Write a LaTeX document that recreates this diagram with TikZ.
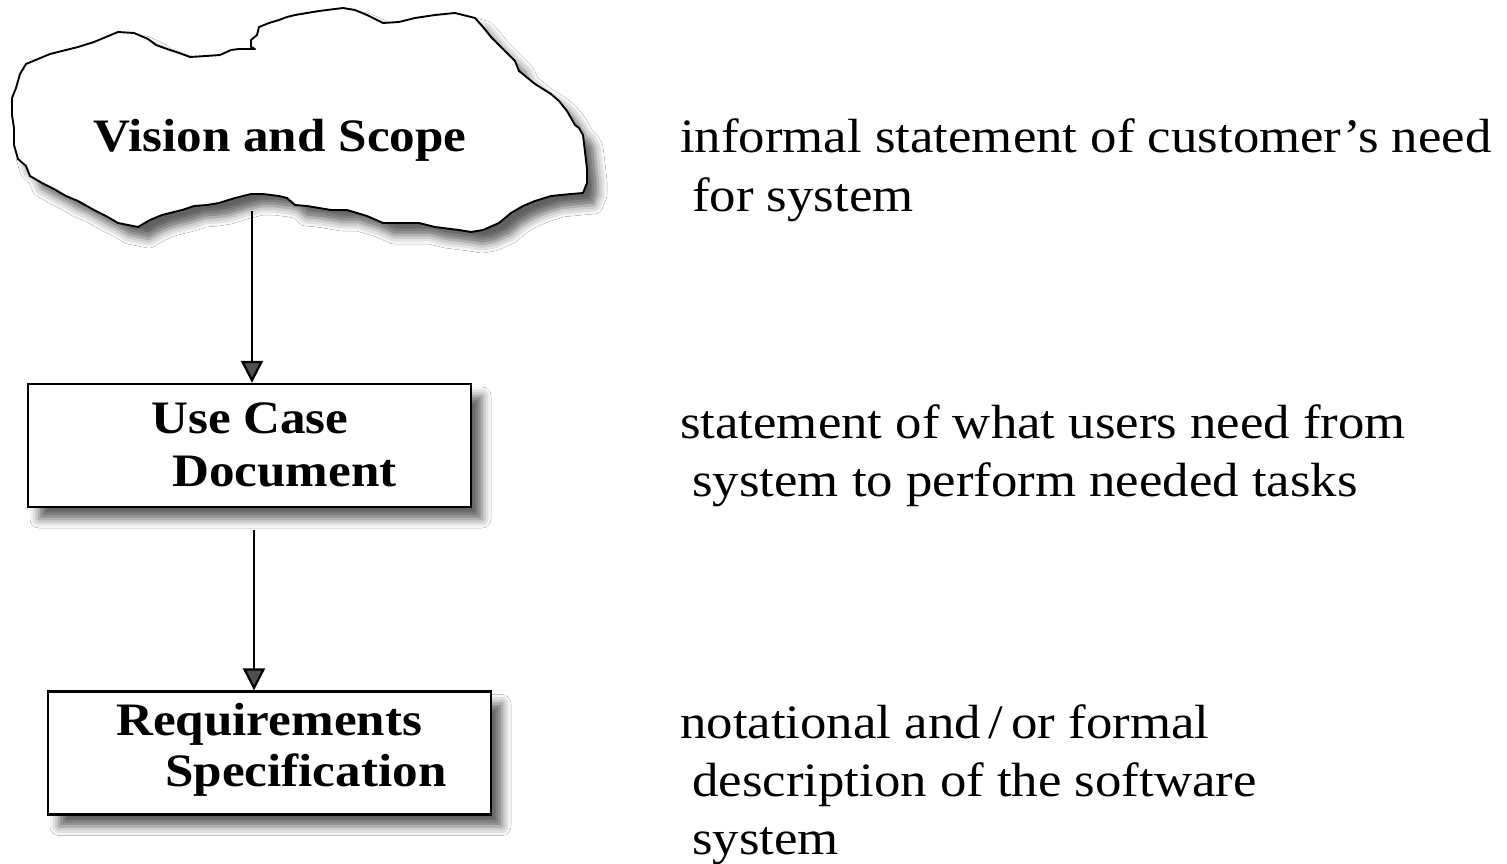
\documentclass[tikz,border=0pt]{standalone}
\usepackage{fontspec}
\setmainfont{Liberation Serif}[FakeStretch=1.1]
\usetikzlibrary{arrows.meta,shadows.blur}

\begin{document}
\begin{tikzpicture}[x=1pt,y=-1pt,
  softshadow/.style={blur shadow={shadow xshift=11pt, shadow yshift=-12pt,
      shadow blur radius=9pt, shadow opacity=62}},
  stepbox/.style={draw=black, line width=2.4pt, fill=white, inner sep=0pt,
      minimum width=443pt, minimum height=123pt, softshadow},
  cloudline/.style={draw=black, line width=1.9pt, fill=white,
      line join=round, softshadow},
  flow/.style={line width=2.2pt, -{Triangle[width=22pt,length=22pt]}},
  boxlabel/.style={font=\fontsize{46.5}{53}\selectfont\bfseries,
      inner sep=0pt, anchor=base west},
  note/.style={font=\fontsize{48}{58}\selectfont, inner sep=0pt,
      anchor=base west},
]
\useasboundingbox (0,0) rectangle (1507,864);
\fill[white] (0,0) rectangle (1507,864);

% ---- the cloud ----
\draw[cloudline] (12,98) -- (16,88) -- (20,74) -- (26,64) -- (38,59)
  -- (50,54) -- (66,50) -- (78,47) -- (94,42) -- (106,37) -- (118,32)
  -- (134,33) -- (148,39) -- (156,45) -- (170,50) -- (182,54) -- (190,57)
  -- (206,56) -- (220,55) -- (231,50) -- (239,49) -- (255,49) -- (251,47)
  -- (251,40) -- (257,35) -- (259,27) -- (269,23) -- (279,20) -- (287,17)
  -- (295,15) -- (307,13) -- (319,11) -- (327,10) -- (343,8) -- (355,10)
  -- (367,15) -- (383,23) -- (399,22) -- (415,18) -- (435,15) -- (455,13)
  -- (463,15) -- (475,18) -- (483,27) -- (491,37) -- (503,49) -- (515,61)
  -- (519,71) -- (535,84) -- (551,94) -- (559,101) -- (567,111) -- (575,125)
  -- (579,128) -- (583,135) -- (585,152) -- (587,169) -- (587,183)
  -- (583,193) -- (571,194) -- (551,196) -- (535,201) -- (523,206)
  -- (511,213) -- (499,223) -- (483,230) -- (471,232) -- (459,230)
  -- (435,227) -- (419,223) -- (399,223) -- (383,223) -- (367,216)
  -- (347,210) -- (331,210) -- (307,206) -- (295,205) -- (287,198)
  -- (279,196) -- (263,194) -- (251,194) -- (235,198) -- (219,203)
  -- (207,205) -- (194,206) -- (182,210) -- (162,215) -- (150,220)
  -- (138,227) -- (118,223) -- (106,216) -- (94,210) -- (78,201)
  -- (66,196) -- (54,189) -- (42,183) -- (30,176) -- (26,166) -- (18,159)
  -- (14,145) -- (14,128) -- (12,115) -- cycle;
\node[boxlabel] (vision) at (93,152) {Vision and Scope};
\coordinate (cloudfoot) at (252,211);

% ---- the two document boxes ----
\node[stepbox] (usecase) at (249.5,445.5) {};
\node[boxlabel] (uc1) at (151,433) {Use Case};
\node[boxlabel] (uc2) at (172,486) {Document};

\node[stepbox] (reqspec) at (269.5,753) {};
\node[boxlabel] (rs1) at (116,735) {Requirements};
\node[boxlabel] (rs2) at (165,786) {Specification};

\coordinate (usefoot) at (254,530);

% ---- connectors ----
\draw[flow] (cloudfoot) -- (cloudfoot |- usecase.north);
\draw[flow] (usefoot) -- (usefoot |- reqspec.north);

% ---- descriptions ----
\node[note] (d1a) at (680,153) {informal statement of customer’s need};
\node[note] (d1b) at (692,211) {for system};
\node[note] (d2a) at (680,438) {statement of what users need from};
\node[note] (d2b) at (692,496) {system to perform needed tasks};
\node[note] (d3a) at (680,738) {notational and\,/\,or formal};
\node[note] (d3b) at (692,796) {description of the software};
\node[note] (d3c) at (692,854) {system};
\end{tikzpicture}
\end{document}
